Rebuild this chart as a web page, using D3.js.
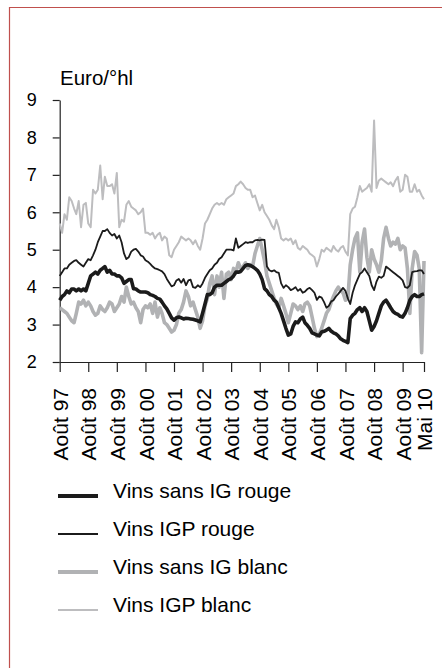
<!DOCTYPE html>
<html><head><meta charset="utf-8">
<script src="https://cdn.jsdelivr.net/npm/d3@7"></script>
<style>
body{margin:0;background:#fff}
svg{display:block}
text{font-family:"Liberation Sans",Arial,Helvetica,sans-serif;fill:#000}
</style>
</head><body>
<svg id="chart" width="442" height="668"></svg>
<script>
// ---------- data ----------
const firstMonth = new Date(1997, 7, 1);   // Août 1997
const lastMonth  = new Date(2010, 4, 1);   // Mai 2010
const months = d3.timeMonth.range(firstMonth, d3.timeMonth.offset(lastMonth, 1));

const tickDates = [
  new Date(1997,7,1), new Date(1998,7,1), new Date(1999,7,1), new Date(2000,7,1),
  new Date(2001,7,1), new Date(2002,7,1), new Date(2003,7,1), new Date(2004,7,1),
  new Date(2005,7,1), new Date(2006,7,1), new Date(2007,7,1), new Date(2008,7,1),
  new Date(2009,7,1), new Date(2010,4,1)
];
const tickLabels = ["Août 97","Août 98","Août 99","Août 00","Août 01","Août 02","Août 03",
  "Août 04","Août 05","Août 06","Août 07","Août 08","Août 09","Mai 10"];
const yTicks = [2,3,4,5,6,7,8,9];
const yTitle = "Euro/°hl";

const seriesNames = ["Vins sans IG rouge","Vins IGP rouge","Vins sans IG blanc","Vins IGP blanc"];

const sansIGRouge = [
  3.65,3.75,3.8,3.9,3.85,3.95,3.95,3.9,3.95,3.9,3.95,3.9,
  4.1,4.3,4.35,4.4,4.35,4.45,4.5,4.55,4.4,4.45,4.35,4.35,
  4.3,4.3,4.25,4.1,4.15,4.2,4.2,3.96,3.95,3.9,3.87,3.87,
  3.87,3.85,3.8,3.78,3.75,3.7,3.68,3.6,3.5,3.42,3.3,3.18,
  3.12,3.18,3.2,3.18,3.15,3.17,3.16,3.15,3.14,3.12,3.1,3.07,
  3.3,3.55,3.8,3.8,3.85,4.0,4.05,4.05,4.05,4.1,4.15,4.2,
  4.23,4.3,4.4,4.4,4.42,4.5,4.58,4.6,4.58,4.55,4.5,4.45,
  4.35,4.2,3.96,3.9,3.8,3.75,3.65,3.6,3.45,3.3,3.1,2.9,
  2.72,2.75,2.95,3.07,3.05,3.15,3.2,3.05,2.98,2.9,2.78,2.75,
  2.72,2.7,2.8,2.82,2.85,2.9,2.82,2.78,2.75,2.7,2.62,2.58,
  2.55,2.52,3.16,3.25,3.3,3.4,3.45,3.35,3.45,3.35,3.1,2.85,
  2.95,3.1,3.3,3.5,3.6,3.65,3.55,3.45,3.35,3.3,3.27,3.22,
  3.2,3.3,3.45,3.65,3.75,3.8,3.75,3.75,3.8,3.82
];
const igpRouge = [
  4.3,4.4,4.5,4.5,4.6,4.65,4.7,4.72,4.65,4.6,4.55,4.65,
  4.75,4.72,4.85,5.0,5.2,5.35,5.5,5.5,5.55,5.45,5.38,5.42,
  5.3,5.38,5.2,4.9,4.75,4.8,4.95,5.0,5.02,4.95,4.85,4.82,
  4.72,4.68,4.62,4.55,4.5,4.48,4.45,4.42,4.35,4.22,4.12,4.02,
  4.05,4.18,4.22,4.12,4.22,4.05,4.18,4.2,4.0,3.98,4.05,4.0,
  4.1,4.25,4.35,4.45,4.5,4.6,4.65,4.75,4.8,4.9,5.0,5.0,
  5.0,4.98,5.3,5.05,5.1,5.15,5.2,5.18,5.2,5.2,5.25,5.26,
  5.25,5.27,5.26,4.55,4.45,4.42,4.45,4.4,4.38,4.1,3.98,4.05,
  4.0,3.92,3.95,4.0,3.9,3.95,3.85,3.88,3.95,3.98,3.92,3.85,
  3.66,3.75,3.72,3.6,3.45,3.5,3.62,3.65,3.75,3.82,3.9,3.98,
  3.9,3.7,3.55,3.85,4.05,4.2,4.35,4.4,4.5,4.4,4.3,4.05,
  3.92,4.15,4.28,4.25,4.3,4.55,4.5,4.45,4.4,4.35,4.3,4.25,
  4.18,4.0,3.98,4.05,4.4,4.42,4.43,4.45,4.45,4.35
];
const sansIGBlanc = [
  3.45,3.4,3.35,3.3,3.2,3.1,3.05,3.3,3.6,3.55,3.65,3.5,
  3.6,3.5,3.35,3.25,3.3,3.5,3.4,3.35,3.45,3.6,3.55,3.35,
  3.45,3.55,3.75,3.6,4.0,3.75,3.55,3.6,3.45,3.35,3.05,3.4,
  3.5,3.45,3.55,3.3,3.6,3.2,3.45,3.3,3.05,3.0,2.9,2.8,
  2.85,3.0,3.3,3.4,3.6,3.9,3.75,3.5,3.6,3.4,3.2,2.9,
  3.1,3.5,3.7,4.1,4.3,3.8,4.3,4.0,4.4,3.7,4.35,4.4,
  4.2,4.5,4.4,4.65,4.5,4.55,4.65,4.5,4.6,4.55,4.9,5.1,
  5.3,5.0,4.7,4.3,4.1,3.9,3.7,3.55,3.45,3.7,3.5,3.3,
  3.05,3.3,3.55,3.5,3.4,3.5,3.35,3.55,3.6,3.5,3.2,2.9,
  2.68,2.75,2.9,3.1,3.3,3.4,3.6,3.75,3.9,4.0,3.9,3.85,
  3.65,3.7,4.6,5.0,5.3,5.45,4.4,5.2,5.55,4.8,4.4,5.0,
  4.75,4.6,4.4,4.7,5.3,5.6,5.3,5.1,5.2,5.15,5.3,5.0,
  5.1,5.05,4.5,3.3,4.5,4.95,4.85,4.5,2.25,4.7
];
const igpBlanc = [
  5.7,5.45,5.95,5.8,6.4,6.3,6.1,5.95,6.3,5.6,6.2,6.25,
  5.7,5.6,6.6,6.5,6.6,7.25,6.35,6.95,6.7,6.7,6.75,6.5,
  7.05,5.6,5.8,5.75,6.2,6.3,6.15,6.1,6.05,5.95,6.0,6.1,
  5.45,5.45,5.4,5.45,5.3,5.4,5.45,5.25,5.35,5.3,4.85,4.8,
  5.0,5.1,5.2,5.35,5.3,5.25,5.3,5.25,5.15,5.25,5.1,5.0,
  5.3,5.7,5.8,5.95,6.1,6.2,6.25,6.2,6.25,6.2,6.35,6.4,
  6.45,6.5,6.7,6.75,6.82,6.75,6.65,6.6,6.6,6.4,6.45,6.25,
  6.05,6.2,6.0,5.9,5.8,5.65,5.55,5.8,5.6,5.3,5.25,5.3,
  5.25,5.3,5.15,5.25,5.05,5.0,5.1,5.05,5.0,4.9,4.85,4.8,
  4.55,4.75,5.0,4.95,5.05,5.0,4.95,5.1,5.0,4.95,5.05,5.1,
  4.95,4.85,5.95,6.1,6.15,6.4,6.7,6.55,6.6,6.65,6.75,6.55,
  8.45,6.65,6.85,6.9,6.85,6.8,6.75,6.8,6.7,6.85,6.95,6.55,
  6.6,7.0,6.95,6.55,6.55,6.75,6.55,6.6,6.45,6.35
];

const seriesValues = [sansIGRouge, igpRouge, sansIGBlanc, igpBlanc];
const seriesColors = ["#1b1b1b","#1b1b1b","#b1b2b4","#bdbdbf"];
const seriesWidths = [3.6, 1.8, 3.6, 2.0];

// ---------- layout ----------
const svg = d3.select("#chart");
const x = d3.scaleTime().domain([firstMonth, lastMonth]).range([59.7, 424]);
const y = d3.scaleLinear().domain([2, 9]).range([362, 100]);

// frame (partial border)
svg.append("path").attr("d", "M9.5,668 V7.5 H442")
  .attr("fill","none").attr("stroke","#c0504d").attr("stroke-width",1.2);

// y axis
const yAxis = svg.append("g").attr("transform","translate(59.7,0)")
  .call(d3.axisLeft(y).tickValues(yTicks).tickSize(7).tickSizeOuter(0).tickPadding(16).tickFormat(d3.format("d")));
yAxis.selectAll("text").style("font-size","18px");
yAxis.select(".domain").attr("stroke","#222").attr("stroke-width",1.2);
yAxis.selectAll(".tick line").attr("stroke","#222").attr("stroke-width",1.2);

svg.append("text").attr("x",60).attr("y",85).style("font-size","20.5px").text(yTitle);

// x axis
const xAxis = svg.append("g").attr("transform","translate(0,362)")
  .call(d3.axisBottom(x).tickValues(tickDates).tickSize(10).tickSizeOuter(0)
    .tickFormat((d,i) => tickLabels[i]));
xAxis.select(".domain").attr("stroke","#222").attr("stroke-width",1.2);
xAxis.selectAll(".tick line").attr("stroke","#222").attr("stroke-width",1.2);
xAxis.selectAll("text")
  .style("font-size","21px")
  .attr("text-anchor","end")
  .attr("transform","rotate(-90)")
  .attr("x",-26).attr("y",0).attr("dy","0.36em");

// lines (grey drawn first, black on top)
const line = d3.line().x((d,i) => x(months[i])).y(d => y(d));
[3,2,1,0].forEach(k => {
  svg.append("path").datum(seriesValues[k])
    .attr("fill","none")
    .attr("stroke", seriesColors[k])
    .attr("stroke-width", seriesWidths[k])
    .attr("stroke-linejoin","round")
    .attr("d", line);
});

// legend
const legend = svg.append("g");
seriesNames.forEach((name, k) => {
  const ly = 496 + k * 38;
  legend.append("line").attr("x1",58).attr("x2",98).attr("y1",ly).attr("y2",ly)
    .attr("stroke",seriesColors[k]).attr("stroke-width", k===0||k===2 ? 4.2 : 2);
  legend.append("text").attr("x",113).attr("y",ly+2).style("font-size","21px").text(name);
});
</script>
</body></html>
